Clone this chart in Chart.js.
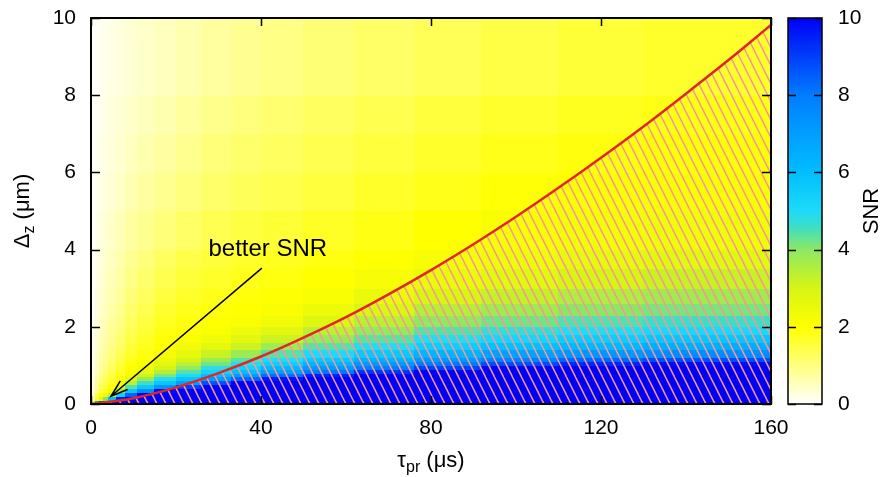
<!DOCTYPE html>
<html>
<head>
<meta charset="utf-8">
<script src="https://cdn.jsdelivr.net/npm/chart.js@4.4.1/dist/chart.umd.min.js"></script>
<style>
  html, body { margin: 0; padding: 0; background: #fff; }
  #wrap { width: 883px; height: 477px; }
</style>
</head>
<body>
<div id="wrap"><canvas id="c" width="883" height="477"></canvas></div>
<script>
// Probe duration τpr (μs): cell edges of the SNR map
const tauEdges = [0, 1, 2, 3, 4, 6, 8, 11, 15, 20, 26, 33, 40, 50, 62, 76, 92, 110, 130, 160];
// Defocus Δz (μm): cell edges of the SNR map
const dzEdges = [0, 0.1, 0.2, 0.3, 0.4, 0.5, 0.6, 0.7, 0.8, 0.9, 1.0, 1.1, 1.2, 1.4, 1.6, 1.8, 2.0, 2.3, 2.6, 3.0, 3.5, 4, 5, 6, 7, 8, 10];

// SNR per τ column, listed from Δz = 0 upwards
const snrColumns = [
  [2.5, 0.6, 0.4, 0.32, 0.27, 0.24, 0.21, 0.19, 0.17, 0.16, 0.15, 0.14, 0.13, 0.12, 0.11, 0.1, 0.09, 0.08, 0.07, 0.07, 0.06, 0.05, 0.04, 0.04, 0.03, 0.03],
  [6.5, 1.9, 1.3, 1.0, 0.85, 0.74, 0.66, 0.6, 0.55, 0.51, 0.48, 0.45, 0.42, 0.38, 0.35, 0.32, 0.3, 0.27, 0.25, 0.22, 0.2, 0.17, 0.14, 0.12, 0.1, 0.08],
  [9.0, 2.65, 1.9, 1.5, 1.28, 1.12, 1.0, 0.92, 0.85, 0.79, 0.74, 0.69, 0.64, 0.58, 0.53, 0.49, 0.45, 0.41, 0.37, 0.33, 0.3, 0.26, 0.22, 0.18, 0.16, 0.13],
  [9.8, 4.1, 2.3, 1.85, 1.6, 1.42, 1.28, 1.17, 1.08, 1.0, 0.94, 0.88, 0.81, 0.74, 0.68, 0.63, 0.58, 0.53, 0.48, 0.43, 0.38, 0.33, 0.27, 0.23, 0.2, 0.16],
  [10, 6.0, 3.4, 2.3, 1.95, 1.75, 1.6, 1.47, 1.37, 1.28, 1.2, 1.13, 1.05, 0.96, 0.88, 0.82, 0.76, 0.69, 0.63, 0.56, 0.5, 0.43, 0.36, 0.3, 0.26, 0.21],
  [10, 9.5, 5.4, 3.7, 2.65, 2.2, 2.0, 1.85, 1.72, 1.62, 1.52, 1.44, 1.34, 1.22, 1.12, 1.04, 0.96, 0.88, 0.8, 0.72, 0.64, 0.55, 0.45, 0.38, 0.32, 0.26],
  [10, 10, 8.4, 5.7, 4.4, 3.4, 2.7, 2.35, 2.12, 2.0, 1.9, 1.8, 1.68, 1.55, 1.45, 1.36, 1.27, 1.17, 1.07, 0.96, 0.86, 0.73, 0.6, 0.5, 0.42, 0.34],
  [10, 10, 10, 7.5, 5.6, 4.6, 3.8, 3.05, 2.65, 2.35, 2.15, 2.02, 1.9, 1.78, 1.68, 1.58, 1.48, 1.38, 1.27, 1.15, 1.03, 0.88, 0.74, 0.62, 0.52, 0.42],
  [10, 10, 10, 9.8, 7.2, 5.7, 4.9, 4.1, 3.5, 3.0, 2.65, 2.45, 2.2, 2.05, 1.95, 1.85, 1.75, 1.62, 1.5, 1.38, 1.25, 1.05, 0.88, 0.74, 0.62, 0.51],
  [10, 10, 10, 10, 9.0, 7.0, 5.8, 5.0, 4.4, 3.9, 3.4, 3.0, 2.6, 2.3, 2.1, 2.0, 1.9, 1.8, 1.68, 1.55, 1.42, 1.2, 1.02, 0.88, 0.76, 0.62],
  [10, 10, 10, 10, 10, 8.7, 7.1, 6.0, 5.3, 4.8, 4.2, 3.8, 3.2, 2.65, 2.35, 2.15, 2.02, 1.92, 1.8, 1.68, 1.56, 1.36, 1.18, 1.04, 0.9, 0.75],
  [10, 10, 10, 10, 10, 10, 8.4, 7.0, 6.0, 5.4, 4.9, 4.4, 3.8, 3.15, 2.7, 2.4, 2.15, 2.02, 1.92, 1.8, 1.67, 1.48, 1.3, 1.15, 1.02, 0.86],
  [10, 10, 10, 10, 10, 10, 9.7, 8.2, 7.0, 6.2, 5.5, 5.0, 4.4, 3.75, 3.15, 2.7, 2.35, 2.1, 1.98, 1.88, 1.76, 1.58, 1.4, 1.25, 1.12, 0.96],
  [10, 10, 10, 10, 10, 10, 10, 9.5, 8.1, 7.1, 6.3, 5.7, 5.0, 4.4, 3.85, 3.35, 2.85, 2.45, 2.15, 2.0, 1.88, 1.7, 1.52, 1.38, 1.25, 1.08],
  [10, 10, 10, 10, 10, 10, 10, 10, 9.2, 8.0, 7.1, 6.4, 5.6, 4.9, 4.35, 3.9, 3.4, 2.9, 2.5, 2.2, 2.02, 1.85, 1.68, 1.52, 1.38, 1.2],
  [10, 10, 10, 10, 10, 10, 10, 10, 10, 9.0, 8.0, 7.2, 6.3, 5.5, 4.9, 4.4, 3.95, 3.45, 2.95, 2.5, 2.2, 2.0, 1.82, 1.66, 1.52, 1.32],
  [10, 10, 10, 10, 10, 10, 10, 10, 10, 9.9, 8.8, 7.9, 6.9, 5.9, 5.2, 4.7, 4.2, 3.75, 3.25, 2.75, 2.4, 2.12, 1.95, 1.8, 1.65, 1.45],
  [10, 10, 10, 10, 10, 10, 10, 10, 10, 10, 9.4, 8.4, 7.2, 6.2, 5.5, 4.95, 4.45, 4.0, 3.55, 3.0, 2.6, 2.25, 2.05, 1.9, 1.76, 1.56],
  [10, 10, 10, 10, 10, 10, 10, 10, 10, 10, 9.8, 8.8, 7.5, 6.5, 5.7, 5.1, 4.6, 4.15, 3.75, 3.2, 2.75, 2.35, 2.12, 1.98, 1.85, 1.66]
];

// Boundary of the hatched region
const curveTau = [0, 10, 20, 30, 40, 50, 60, 70, 80, 90, 100, 110, 120, 130, 140, 150, 160];
const curveDz  = [0, 0.15, 0.43, 0.80, 1.23, 1.72, 2.25, 2.84, 3.47, 4.14, 4.85, 5.60, 6.38, 7.19, 8.04, 8.91, 9.82];

// Axis ticks
const tauTicks = [0, 40, 80, 120, 160];
const dzTicks  = [0, 2, 4, 6, 8, 10];
const snrTicks = [0, 2, 4, 6, 8, 10];

// Annotation anchor points in data units
const noteText = 'better SNR';
const notePos = { tau: 41.6, dz: 4.0 };
const arrowFrom = { tau: 40.2, dz: 3.52 };
const arrowTo = { tau: 4.7, dz: 0.2 };

const FONT = '"Liberation Sans", Arial, Helvetica, sans-serif';

// Colour scale for SNR 0..10
const cmapStops = [
  [0, [255, 255, 255]],
  [2, [255, 255, 0]],
  [3, [215, 245, 20]],
  [4, [140, 232, 100]],
  [4.6, [60, 222, 200]],
  [5, [30, 218, 250]],
  [6, [0, 190, 255]],
  [8, [0, 125, 255]],
  [10, [0, 0, 245]]
];
function snrColor(v) {
  v = Math.max(0, Math.min(10, v));
  for (let i = 1; i < cmapStops.length; i++) {
    const [v1, c1] = cmapStops[i];
    const [v0, c0] = cmapStops[i - 1];
    if (v <= v1) {
      const t = (v - v0) / (v1 - v0);
      const c = c0.map((a, k) => Math.round(a + (c1[k] - a) * t));
      return `rgb(${c[0]},${c[1]},${c[2]})`;
    }
  }
  return 'rgb(0,0,245)';
}

function hatchPattern() {
  const tile = document.createElement('canvas');
  tile.width = 9; tile.height = 18;
  const g = tile.getContext('2d');
  g.strokeStyle = 'rgb(245,150,150)';
  g.lineWidth = 1.5;
  for (const off of [-9, 0, 9]) {
    g.beginPath();
    g.moveTo(off - 1, -2);
    g.lineTo(off + 10, 20);
    g.stroke();
  }
  return g.createPattern(tile, 'repeat');
}

const heatmap = {
  id: 'heatmap',
  beforeDraw(chart) {
    const ctx = chart.ctx;
    ctx.save();
    ctx.fillStyle = '#fff';
    ctx.fillRect(0, 0, chart.width, chart.height);
    ctx.restore();
  },
  beforeDatasetsDraw(chart) {
    const { ctx, chartArea: a, scales: { x, y } } = chart;
    ctx.save();
    ctx.beginPath();
    ctx.rect(a.left, a.top, a.width, a.height);
    ctx.clip();
    snrColumns.forEach((col, i) => {
      const x0 = Math.floor(x.getPixelForValue(tauEdges[i]));
      const x1 = Math.ceil(x.getPixelForValue(tauEdges[i + 1]));
      col.forEach((v, j) => {
        const yb = Math.ceil(y.getPixelForValue(dzEdges[j]));
        const yt = Math.floor(y.getPixelForValue(dzEdges[j + 1]));
        ctx.fillStyle = snrColor(v);
        ctx.fillRect(x0, yt, x1 - x0, yb - yt);
      });
    });
    ctx.restore();
  }
};

function drawSubscripted(ctx, parts, anchor, rotate) {
  // parts: [text, font size, baseline shift]
  ctx.save();
  let total = 0;
  const widths = parts.map(([t, s]) => { ctx.font = `${s}px ${FONT}`; const w = ctx.measureText(t).width; total += w; return w; });
  ctx.translate(anchor.x, anchor.y);
  if (rotate) ctx.rotate(-Math.PI / 2);
  let pos = -total / 2;
  ctx.fillStyle = '#000';
  ctx.textBaseline = 'alphabetic';
  ctx.textAlign = 'left';
  parts.forEach(([t, s, shift], i) => {
    ctx.font = `${s}px ${FONT}`;
    ctx.fillText(t, pos, shift);
    pos += widths[i];
  });
  ctx.restore();
}

const decor = {
  id: 'decor',
  afterDraw(chart) {
    const { ctx, chartArea: a, scales: { x, y, snr } } = chart;
    ctx.save();

    // annotation arrow
    const sx = x.getPixelForValue(arrowFrom.tau), sy = y.getPixelForValue(arrowFrom.dz);
    const ex = x.getPixelForValue(arrowTo.tau), ey = y.getPixelForValue(arrowTo.dz);
    ctx.strokeStyle = '#000';
    ctx.lineWidth = 1.5;
    ctx.beginPath();
    ctx.moveTo(sx, sy);
    ctx.lineTo(ex, ey);
    const ang = Math.atan2(sy - ey, sx - ex);
    const hl = 18, ha = 0.32;
    ctx.moveTo(ex + hl * Math.cos(ang - ha), ey + hl * Math.sin(ang - ha));
    ctx.lineTo(ex, ey);
    ctx.lineTo(ex + hl * Math.cos(ang + ha), ey + hl * Math.sin(ang + ha));
    ctx.stroke();

    ctx.fillStyle = '#000';
    ctx.font = `24px ${FONT}`;
    ctx.textAlign = 'center';
    ctx.textBaseline = 'middle';
    ctx.fillText(noteText, x.getPixelForValue(notePos.tau), y.getPixelForValue(notePos.dz));

    // plot frame and inward ticks
    ctx.lineWidth = 2;
    ctx.strokeRect(a.left, a.top, a.width, a.height);
    ctx.lineWidth = 1.5;
    ctx.beginPath();
    tauTicks.forEach(v => {
      const px = Math.round(x.getPixelForValue(v)) + 0.5;
      ctx.moveTo(px, a.bottom); ctx.lineTo(px, a.bottom - 8);
      ctx.moveTo(px, a.top); ctx.lineTo(px, a.top + 8);
    });
    dzTicks.forEach(v => {
      const py = Math.round(y.getPixelForValue(v)) + 0.5;
      ctx.moveTo(a.left, py); ctx.lineTo(a.left + 9, py);
      ctx.moveTo(a.right, py); ctx.lineTo(a.right - 9, py);
    });
    ctx.stroke();

    // colour bar
    const cbL = a.right + 17, cbW = 34;
    const cbTop = snr.getPixelForValue(10), cbBot = snr.getPixelForValue(0);
    for (let py = Math.floor(cbTop); py < Math.ceil(cbBot); py++) {
      ctx.fillStyle = snrColor(snr.getValueForPixel(py + 0.5));
      ctx.fillRect(cbL, py, cbW, 1);
    }
    ctx.strokeStyle = '#000';
    ctx.lineWidth = 1.5;
    ctx.strokeRect(cbL, cbTop, cbW, cbBot - cbTop);
    ctx.beginPath();
    snrTicks.forEach(v => {
      const py = Math.round(snr.getPixelForValue(v)) + 0.5;
      ctx.moveTo(cbL, py); ctx.lineTo(cbL + 8, py);
      ctx.moveTo(cbL + cbW, py); ctx.lineTo(cbL + cbW - 8, py);
    });
    ctx.stroke();
    ctx.restore();

    // axis titles
    const midY = (a.top + a.bottom) / 2;
    drawSubscripted(ctx, [['τ', 22, 0], ['pr', 16, 5], [' (μs)', 22, 0]], { x: (a.left + a.right) / 2, y: 467 }, false);
    drawSubscripted(ctx, [['Δ', 22, 0], ['z', 16, 5], [' (μm)', 22, 0]], { x: 29, y: midY }, true);
    drawSubscripted(ctx, [['SNR', 22, 0]], { x: 878, y: midY }, true);
  }
};

const tickFont = { family: FONT, size: 21 };
// keep the label half-heights from pushing the plot area around
const noVertPad = s => { s.paddingTop = 0; s.paddingBottom = 0; };
const hiddenGrid = { display: false, drawTicks: false };

new Chart(document.getElementById('c'), {
  type: 'line',
  data: {
    datasets: [{
      data: curveTau.map((t, i) => ({ x: t, y: curveDz[i] })),
      borderColor: 'rgb(224,38,38)',
      borderWidth: 2.5,
      pointRadius: 0,
      cubicInterpolationMode: 'monotone',
      fill: 'origin',
      backgroundColor: hatchPattern()
    }]
  },
  options: {
    responsive: false,
    maintainAspectRatio: false,
    devicePixelRatio: 1,
    animation: false,
    layout: { padding: { left: 0, right: 0, top: 18, bottom: 0 } },
    plugins: { legend: { display: false }, tooltip: { enabled: false } },
    scales: {
      x: {
        type: 'linear', min: 0, max: 160,
        grid: hiddenGrid, border: { display: false },
        afterBuildTicks: s => { s.ticks = tauTicks.map(v => ({ value: v })); },
        afterFit: s => { s.height = 73; s.paddingLeft = 0; s.paddingRight = 0; },
        ticks: { font: tickFont, color: '#000', padding: 12, maxRotation: 0 }
      },
      y: {
        type: 'linear', min: 0, max: 10,
        grid: hiddenGrid, border: { display: false },
        afterBuildTicks: s => { s.ticks = dzTicks.map(v => ({ value: v })); },
        afterFit: s => { s.width = 91; noVertPad(s); },
        ticks: { font: tickFont, color: '#000', padding: 15 }
      },
      snr: {
        type: 'linear', axis: 'y', position: 'right', min: 0, max: 10,
        grid: hiddenGrid, border: { display: false },
        afterBuildTicks: s => { s.ticks = snrTicks.map(v => ({ value: v })); },
        afterFit: s => { s.width = 112; noVertPad(s); },
        ticks: { font: tickFont, color: '#000', padding: 67 }
      }
    }
  },
  plugins: [heatmap, decor]
});
</script>
</body>
</html>
